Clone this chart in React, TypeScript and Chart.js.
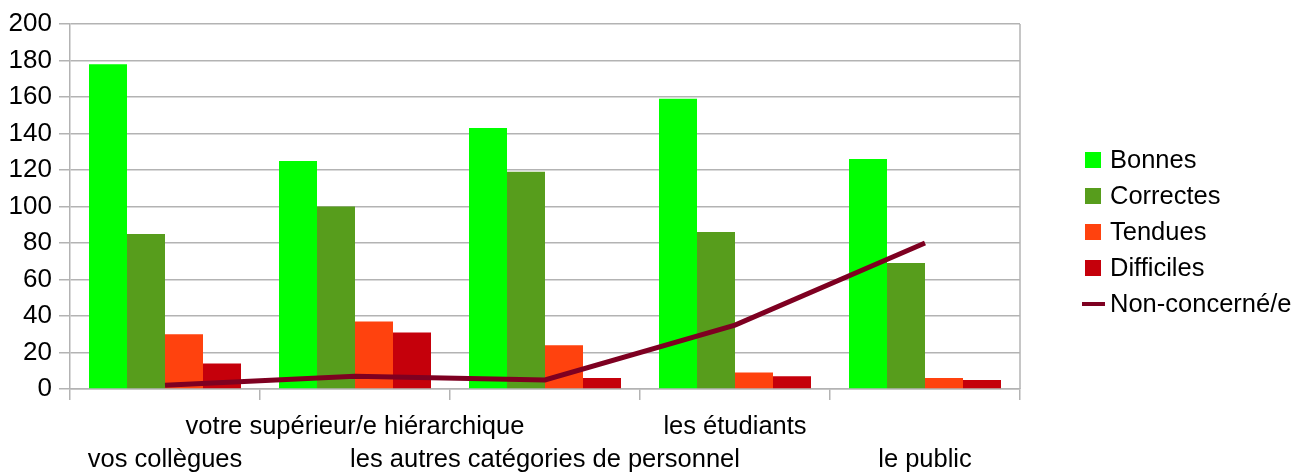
import React, { useEffect, useRef } from "react";
import { Chart, registerables } from "chart.js";

Chart.register(...registerables);

const categories = [
  "vos collègues",
  "votre supérieur/e hiérarchique",
  "les autres catégories de personnel",
  "les étudiants",
  "le public",
];
const bonnes = [178, 125, 143, 159, 126];
const correctes = [85, 100, 119, 86, 69];
const tendues = [30, 37, 24, 9, 6];
const difficiles = [14, 31, 6, 7, 5];
const nonConcerne = [2, 7, 5, 35, 80];
const yTicks = [0, 20, 40, 60, 80, 100, 120, 140, 160, 180, 200];

const FONT = "'Liberation Sans', Arial, sans-serif";
const GRID = "#b3b3b3";

const legendPlugin = {
  id: "customLegend",
  afterDraw(chart: any) {
    const ctx = chart.ctx;
    const ds = chart.data.datasets;
    const x0 = 1085;
    const y0 = 160;
    const step = 36;
    ctx.save();
    ctx.font = `25.5px ${FONT}`;
    ctx.textBaseline = "middle";
    ctx.fillStyle = "#000";
    ds.forEach((d: any, i: number) => {
      const y = y0 + i * step;
      if (d.type === "line") {
        ctx.strokeStyle = d.borderColor;
        ctx.lineWidth = 4;
        ctx.beginPath();
        ctx.moveTo(x0 - 3, y);
        ctx.lineTo(x0 + 20, y);
        ctx.stroke();
      } else {
        ctx.fillStyle = d.backgroundColor;
        ctx.fillRect(x0, y - 8, 16, 16);
      }
      ctx.fillStyle = "#000";
      ctx.fillText(d.label, x0 + 25, y + 1);
    });
    ctx.restore();
  },
};

const borderPlugin = {
  id: "rightBorder",
  beforeDatasetsDraw(chart: any) {
    const { ctx, chartArea } = chart;
    ctx.save();
    ctx.strokeStyle = GRID;
    ctx.lineWidth = 1.5;
    ctx.beginPath();
    ctx.moveTo(chartArea.right, chartArea.top);
    ctx.lineTo(chartArea.right, chartArea.bottom);
    ctx.stroke();
    ctx.restore();
  },
};

export default function App() {
  const ref = useRef<HTMLCanvasElement | null>(null);

  useEffect(() => {
    document.body.style.margin = "0";
    const canvas = ref.current;
    if (!canvas) return;
    const chart = new Chart(canvas, {
      type: "bar",
      data: {
        labels: categories,
        datasets: [
          { type: "bar", label: "Bonnes", data: bonnes, backgroundColor: "#00ff00", order: 1 },
          { type: "bar", label: "Correctes", data: correctes, backgroundColor: "#579d1c", order: 1 },
          { type: "bar", label: "Tendues", data: tendues, backgroundColor: "#ff420e", order: 1 },
          { type: "bar", label: "Difficiles", data: difficiles, backgroundColor: "#c5000b", order: 1 },
          {
            type: "line",
            label: "Non-concerné/e",
            data: nonConcerne,
            borderColor: "#7e0021",
            backgroundColor: "#7e0021",
            borderWidth: 5,
            pointRadius: 0,
            tension: 0,
            order: 0,
          } as any,
        ],
      },
      options: {
        responsive: false,
        animation: false,
        devicePixelRatio: 1,
        layout: { padding: { top: 24, right: 288, left: 0, bottom: 0 } },
        datasets: { bar: { categoryPercentage: 0.8, barPercentage: 1.0 } },
        plugins: { legend: { display: false }, tooltip: { enabled: false } },
        scales: {
          x: {
            offset: true,
            grid: {
              offset: true,
              drawOnChartArea: false,
              drawTicks: true,
              tickLength: 11,
              color: GRID,
              lineWidth: 1.5,
            },
            border: { display: true, color: GRID, width: 1.5 },
            ticks: {
              color: "#000",
              font: { family: FONT, size: 25.5, lineHeight: 1.3 },
              padding: 10,
              maxRotation: 0,
              minRotation: 0,
              autoSkip: false,
              callback: (_v: any, i: number) =>
                i % 2 === 0 ? ["", categories[i]] : [categories[i], ""],
            },
            afterFit: (scale: any) => {
              scale.height = 472 - 389;
            },
          },
          y: {
            min: 0,
            max: 200,
            afterBuildTicks: (scale: any) => {
              scale.ticks = yTicks.map((v) => ({ value: v }));
            },
            grid: { color: GRID, lineWidth: 1.5, tickLength: 11 },
            border: { display: true, color: GRID, width: 1.5 },
            ticks: {
              color: "#000",
              font: { family: FONT, size: 26 },
              padding: 7,
            },
            afterFit: (scale: any) => {
              scale.width = 70;
            },
          },
        },
      },
      plugins: [legendPlugin, borderPlugin],
    });
    return () => chart.destroy();
  }, []);

  return (
    <div style={{ position: "absolute", left: 0, top: 0, width: 1308, height: 472, background: "#fff" }}>
      <canvas ref={ref} width={1308} height={472} style={{ display: "block" }} />
    </div>
  );
}
